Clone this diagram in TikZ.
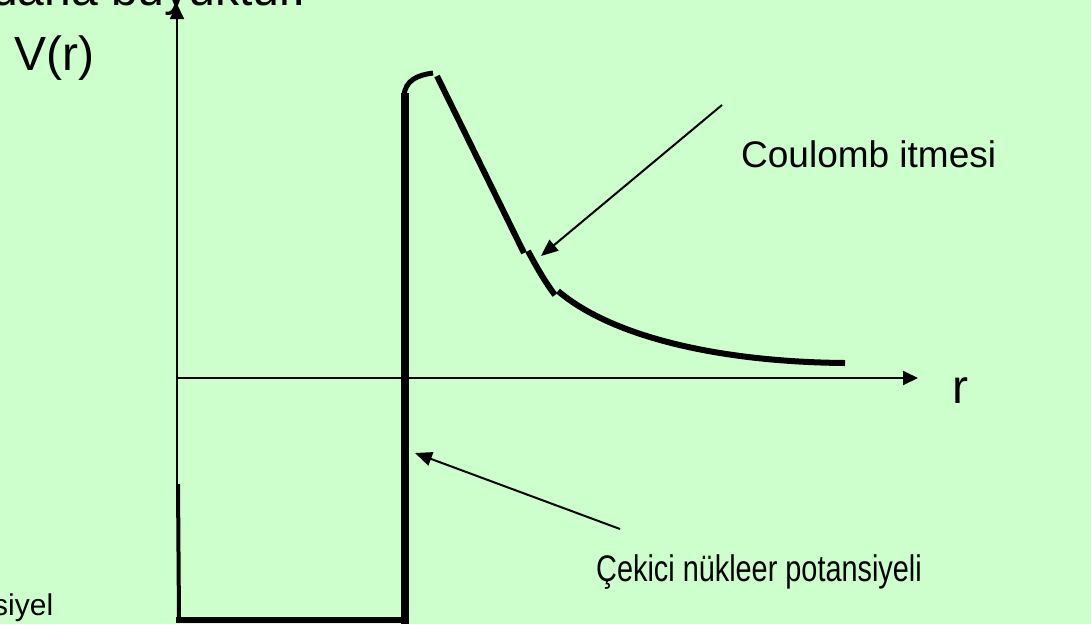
\documentclass[tikz,border=0pt]{standalone}
\usepackage{fontspec}
\setmainfont{Liberation Sans}
\usetikzlibrary{arrows.meta}
\definecolor{bg}{HTML}{CCFFCC}
\tikzset{
  axis/.style={line width=1.8pt,-{Triangle[length=15pt,width=14pt]}},
  pot/.style={line width=6pt,line cap=butt,line join=miter},
  ptr/.style={line width=2pt,-{Triangle[length=17pt,width=14pt]}},
  big/.style={font=\fontsize{48pt}{50pt}\selectfont,inner sep=0pt},
  mid/.style={font=\fontsize{37pt}{40pt}\selectfont,inner sep=0pt},
  small/.style={font=\fontsize{30pt}{32pt}\selectfont,inner sep=0pt}
}
\begin{document}
\begin{tikzpicture}[x=1pt,y=-1pt]
\useasboundingbox (0,0) rectangle (1091,624);
\clip (0,0) rectangle (1091,624);
\fill[bg] (0,0) rectangle (1091,624);

% texts
\node[big,anchor=base west] (title) at (-9,5) {daha büyüktür.};
\node[big,anchor=base west] (vr) at (14,70) {V(r)};
\node[big,anchor=base west] (rl) at (952,403) {r};
\node[mid,anchor=base west] (coul) at (741,167) {Coulomb itmesi};
\node[mid,anchor=base west] (cek) at (596,581) {\scalebox{0.78}[1]{Çekici nükleer potansiyeli}};
\node[small,anchor=base west] (siy) at (-7,615) {siyel};

% axes
\coordinate (O) at (177,378);
\coordinate (ybot) at (177,484);
\coordinate (ytop) at (177,4);
\coordinate (xend) at (918,378);
\draw[axis] (ybot) -- (ytop);
\draw[axis] (O) -- (xend);

% potential well
\coordinate (wl) at (178,484);
\coordinate (wbr) at (405,620);
\coordinate (wtop) at (405,93);
\draw[line width=4pt] (wl) -- (179,620);
\draw[pot,line width=6.5pt] (176,620) -- (wbr);
\draw[pot,line width=7.5pt] (405,623.5) -- (wtop);
\draw[pot,line width=5pt] (404,96) .. controls (405,80) and (418,75) .. (433,73);
\draw[pot] (437,76) -- (524,253);
\draw[pot] (528,251) .. controls (536,266) and (545,282) .. (555,295);
\draw[pot] (558,291) .. controls (612,337) and (720,362) .. (845,363);

% pointers
\coordinate (c1) at (722,105);
\coordinate (c2) at (541,256);
\draw[ptr] (c1) -- (c2);
\coordinate (n1) at (620,529);
\coordinate (n2) at (415,453);
\draw[ptr] (n1) -- (n2);
\end{tikzpicture}
\end{document}
